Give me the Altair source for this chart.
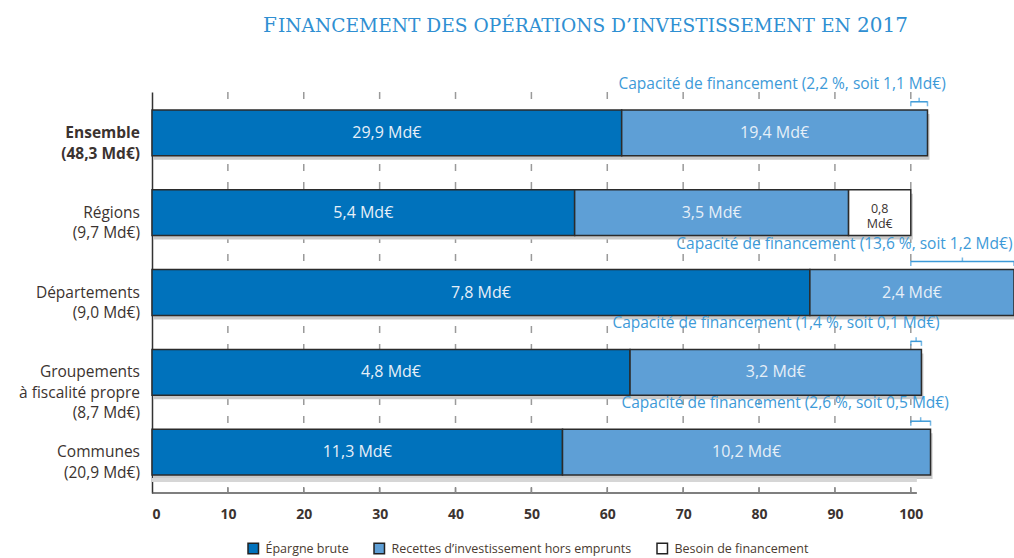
import altair as alt
import pandas as pd

# ---- values -------------------------------------------------------------
categories = [
    "Ensemble",
    "Régions",
    "Départements",
    "Groupements à fiscalité propre",
    "Communes",
]
category_lines = [
    ["Ensemble", "(48,3 Md€)"],
    ["Régions", "(9,7 Md€)"],
    ["Départements", "(9,0 Md€)"],
    ["Groupements", "à fiscalité propre", "(8,7 Md€)"],
    ["Communes", "(20,9 Md€)"],
]
bold_category = ["Ensemble"]

# shares of investment spending (%)
epargne_pct = [61.9, 55.7, 86.7, 63.0, 54.1]
capacite_pct = [2.2, 0.0, 13.6, 1.4, 2.6]
besoin_pct = [0.0, 8.2, 0.0, 0.0, 0.0]

# amounts shown on the bars (Md€)
epargne_md = ["29,9", "5,4", "7,8", "4,8", "11,3"]
recettes_md = ["19,4", "3,5", "2,4", "3,2", "10,2"]
besoin_md = ["", "0,8", "", "", ""]
capacite_md = ["1,1", "", "1,2", "0,1", "0,5"]

axis_ticks = [0, 10, 20, 30, 40, 50, 60, 70, 80, 90, 100]

series = [
    "Épargne brute",
    "Recettes d’investissement hors emprunts",
    "Besoin de financement",
]
series_colors = ["#0072bc", "#5e9fd6", "#ffffff"]

title_first = "F"
title_middle = "INANCEMENT DES OPÉRATIONS D’INVESTISSEMENT EN"
title_year = "2017"

# ---- tables -------------------------------------------------------------
segments = []
for i, cat in enumerate(categories):
    e = epargne_pct[i]
    total = 100 + capacite_pct[i] - besoin_pct[i]
    segments.append(dict(cat=cat, seg=series[0], x0=0, x1=e,
                         mid=e / 2, lab=[f"{epargne_md[i]} Md€"], dark=False))
    segments.append(dict(cat=cat, seg=series[1], x0=e, x1=total,
                         mid=(e + total) / 2, lab=[f"{recettes_md[i]} Md€"], dark=False))
    if besoin_pct[i] > 0:
        segments.append(dict(cat=cat, seg=series[2], x0=total, x1=100,
                             mid=(total + 100) / 2, lab=[besoin_md[i], "Md€"], dark=True))
seg_df = pd.DataFrame(segments)

totals_df = pd.DataFrame({
    "cat": categories,
    "x0": [0] * len(categories),
    "x1": [max(100 + c, 100) for c in capacite_pct],
})

XMAX = 113.6
cap_rows = []
for i, cat in enumerate(categories):
    c = capacite_pct[i]
    if c <= 0:
        continue
    pct_txt = f"{c:.1f}".replace(".", ",")
    cap_rows.append(dict(
        cat=cat, x0=100, x1=100 + c, xm=100 + c / 2,
        xt=min(100 + c + 2.4, XMAX - 0.2),
        txt=f"Capacité de financement ({pct_txt} %, soit {capacite_md[i]} Md€)",
    ))
cap_df = pd.DataFrame(cap_rows)

label_df = pd.DataFrame({
    "cat": categories,
    "lines": category_lines,
    "bold": [c in bold_category for c in categories],
})

grid_df = pd.DataFrame({"t": [t for t in axis_ticks if t > 0]})

# ---- encodings ----------------------------------------------------------
FONT = "Open Sans"
TEXT_DARK = "#3b3330"
CAP_BLUE = "#3d9ad8"

x_scale = alt.Scale(domain=[0, XMAX], nice=False, zero=True)
x_axis = alt.Axis(values=axis_ticks, format="d", title=None, domain=False,
                  ticks=False, grid=False, labelPadding=14, labelFont=FONT,
                  labelFontSize=14, labelFontWeight="bold", labelColor=TEXT_DARK)


def X(field):
    return alt.X(f"{field}:Q", scale=x_scale, axis=x_axis)


def X2(field):
    return alt.X2(f"{field}:Q")


Y = alt.Y("cat:N", sort=categories,
          scale=alt.Scale(paddingInner=0.4264, paddingOuter=0.224),
          axis=alt.Axis(labels=False, ticks=False, title=None, grid=False,
                        domainColor="#333333", domainWidth=1.5))

# ---- layers -------------------------------------------------------------
grid = alt.Chart(grid_df).mark_rule(
    color="#9a9a9a", strokeWidth=1.5, strokeDash=[7, 11]
).encode(x=X("t"), y=alt.value(0), y2=alt.value(401))

shadow = alt.Chart(totals_df).mark_bar(
    color="#c9c9c9", yOffset=4, y2Offset=4, xOffset=2, x2Offset=2
).encode(x=X("x0"), x2=X2("x1"), y=Y)

bars = alt.Chart(seg_df).mark_bar(
    stroke="#2b2b2b", strokeWidth=1.5, opacity=1
).encode(
    x=X("x0"), x2=X2("x1"), y=Y,
    color=alt.Color("seg:N", scale=alt.Scale(domain=series, range=series_colors),
                    legend=alt.Legend(
                        orient="none", legendX=95, legendY=450,
                        direction="horizontal", title=None,
                        symbolType="square", symbolSize=110,
                        symbolStrokeColor="#222222", symbolStrokeWidth=1.5,
                        symbolOpacity=1, labelLimit=500,
                        labelFont=FONT, labelFontSize=12.5, labelColor="#4a3b30",
                        columnPadding=22, labelOffset=6)),
)

bar_text_light = alt.Chart(seg_df).transform_filter("!datum.dark").mark_text(
    font=FONT, fontSize=16, color="#e6eff8", baseline="middle", align="center"
).encode(x=X("mid"), y=Y, text="lab")

bar_text_dark = alt.Chart(seg_df).transform_filter("datum.dark").mark_text(
    font=FONT, fontSize=12.5, color=TEXT_DARK, baseline="middle", align="center",
    lineHeight=15, yOffset=-4
).encode(x=X("mid"), y=Y, text="lab")

bracket_line = alt.Chart(cap_df).mark_rule(
    color=CAP_BLUE, strokeWidth=1.5, yOffset=-31
).encode(x=X("x0"), x2=X2("x1"), y=Y)

bracket_ends_l = alt.Chart(cap_df).mark_tick(
    color=CAP_BLUE, thickness=1.5, size=5, yOffset=-29
).encode(x=X("x0"), y=Y)

bracket_ends_r = alt.Chart(cap_df).mark_tick(
    color=CAP_BLUE, thickness=1.5, size=5, yOffset=-29
).encode(x=X("x1"), y=Y)

bracket_mid = alt.Chart(cap_df).mark_tick(
    color=CAP_BLUE, thickness=1.5, size=4, yOffset=-33
).encode(x=X("xm"), y=Y)

cap_text = alt.Chart(cap_df).mark_text(
    font=FONT, fontSize=15.5, color=CAP_BLUE, align="right", baseline="middle",
    yOffset=-49
).encode(x=X("xt"), y=Y, text="txt:N")

cat_text = alt.Chart(label_df).transform_filter("!datum.bold").mark_text(
    font=FONT, fontSize=15.5, color=TEXT_DARK, align="right", baseline="middle",
    lineHeight=20.5
).encode(x=alt.value(-12), y=Y, text="lines")

cat_text_bold = alt.Chart(label_df).transform_filter("datum.bold").mark_text(
    font=FONT, fontSize=15.5, fontWeight="bold", color=TEXT_DARK, align="right",
    baseline="middle", lineHeight=21
).encode(x=alt.value(-12), y=Y, text="lines")

# bottom ruler
ruler_df = pd.DataFrame({"x0": [0], "x1": [100.8]})
ruler_band = alt.Chart(ruler_df).mark_rule(
    color="#d6d6d6", strokeWidth=4
).encode(x=X("x0"), x2=X2("x1"), y=alt.value(388))
ruler_line = alt.Chart(ruler_df).mark_rule(
    color="#555555", strokeWidth=1.5
).encode(x=X("x0"), x2=X2("x1"), y=alt.value(401))
ruler_ticks = alt.Chart(grid_df).mark_rule(
    color="#8a8a8a", strokeWidth=1.5
).encode(x=X("t"), y=alt.value(395), y2=alt.value(401))

# title in small capitals
TITLE_BLUE = "#2f8fd2"
TITLE_FONT = "DejaVu Serif"
title_a = alt.Chart(pd.DataFrame({"t": [title_first]})).mark_text(
    font=TITLE_FONT, fontSize=20, color=TITLE_BLUE, align="left",
    baseline="alphabetic"
).encode(x=alt.value(111), y=alt.value(-60), text="t:N")
title_b = alt.Chart(pd.DataFrame({"t": [title_middle]})).mark_text(
    font=TITLE_FONT, fontSize=18.6, color=TITLE_BLUE, align="left",
    baseline="alphabetic"
).encode(x=alt.value(126), y=alt.value(-60), text="t:N")
title_c = alt.Chart(pd.DataFrame({"t": [title_year]})).mark_text(
    font=TITLE_FONT, fontSize=20, color=TITLE_BLUE, align="right",
    baseline="alphabetic"
).encode(x=alt.value(756), y=alt.value(-60), text="t:N")

chart = alt.layer(
    grid, shadow, bars, bar_text_light, bar_text_dark,
    bracket_line, bracket_ends_l, bracket_ends_r, bracket_mid, cap_text,
    cat_text, cat_text_bold, ruler_band, ruler_line, ruler_ticks,
    title_a, title_b, title_c,
).properties(
    width=862, height=401,
    autosize=alt.AutoSizeParams(type="none"),
    padding={"left": 152, "top": 92, "right": 0, "bottom": 65},
    background="#ffffff",
).configure_view(stroke=None)

chart.save("out.html", embed_options={"renderer": "svg", "actions": False})
